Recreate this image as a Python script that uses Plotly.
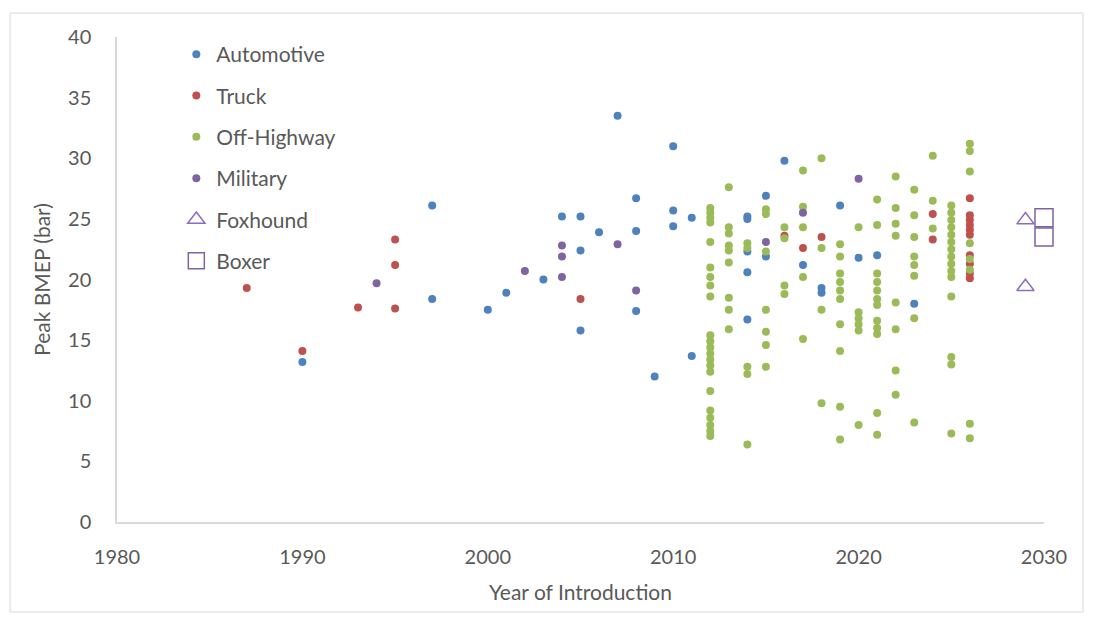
import plotly.graph_objects as go

# Peak BMEP (bar) against year of introduction, by engine application
automotive_year = [1990, 1997, 1997, 2000, 2001, 2003, 2004, 2005, 2005, 2005,
                   2006, 2007, 2008, 2008, 2008, 2009, 2010, 2010, 2010, 2011,
                   2011, 2014, 2014, 2014, 2014, 2014, 2015, 2015, 2016, 2017,
                   2018, 2018, 2019, 2020, 2021, 2023]
automotive_bmep = [13.2, 26.1, 18.4, 17.5, 18.9, 20.0, 25.2, 25.2, 22.4, 15.8,
                   23.9, 33.5, 26.7, 24.0, 17.4, 12.0, 31.0, 25.7, 24.4, 25.1,
                   13.7, 25.2, 25.0, 22.3, 20.6, 16.7, 26.9, 21.9, 29.8, 21.2,
                   19.3, 18.9, 26.1, 21.8, 22.0, 18.0]

truck_year = [1987, 1990, 1993, 1995, 1995, 1995, 2005, 2016, 2017, 2018,
              2024, 2024, 2026, 2026, 2026, 2026, 2026, 2026, 2026, 2026,
              2026, 2026]
truck_bmep = [19.3, 14.1, 17.7, 23.3, 21.2, 17.6, 18.4, 23.6, 22.6, 23.5,
              25.4, 23.3, 26.7, 25.3, 24.9, 24.5, 24.1, 23.7, 22.0, 21.3,
              20.5, 20.1]

offhighway_year = ([2012] * 22 + [2013] * 9 + [2014] * 5 + [2015] * 7 +
                   [2016] * 4 + [2017] * 5 + [2018] * 4 + [2019] * 10 +
                   [2020] * 6 + [2021] * 12 + [2022] * 8 + [2023] * 8 +
                   [2024] * 3 + [2025] * 15 + [2026] * 8)
offhighway_bmep = [
    25.9, 25.5, 25.1, 24.7, 23.1, 21.0, 20.2, 19.5, 18.6, 15.4, 14.9, 14.4,
    13.9, 13.4, 12.9, 12.4, 10.8, 9.2, 8.6, 8.0, 7.5, 7.1,
    27.6, 24.3, 23.8, 22.8, 22.4, 21.4, 18.5, 17.5, 15.9,
    23.0, 22.6, 12.8, 12.2, 6.4,
    25.8, 25.4, 22.3, 17.5, 15.7, 14.6, 12.8,
    24.3, 23.4, 19.5, 18.8,
    29.0, 26.0, 24.3, 20.2, 15.1,
    30.0, 22.6, 17.5, 9.8,
    22.9, 21.9, 20.5, 19.8, 19.1, 18.4, 16.3, 14.1, 9.5, 6.8,
    24.3, 17.3, 16.8, 16.3, 15.8, 8.0,
    26.6, 24.5, 20.5, 19.8, 19.1, 18.4, 17.9, 16.6, 16.0, 15.5, 9.0, 7.2,
    28.5, 25.9, 24.6, 23.6, 18.1, 15.9, 12.5, 10.5,
    27.4, 25.3, 23.5, 21.9, 21.2, 20.3, 16.8, 8.2,
    30.2, 26.5, 24.2,
    26.1, 25.5, 24.9, 24.3, 23.7, 23.1, 22.5, 21.9, 21.3, 20.7, 20.2, 18.6,
    13.6, 13.0, 7.3,
    31.2, 30.6, 28.9, 23.0, 21.7, 20.8, 8.1, 6.9,
]

military_year = [1994, 2002, 2004, 2004, 2004, 2007, 2008, 2015, 2017, 2020]
military_bmep = [19.7, 20.7, 22.8, 21.9, 20.2, 22.9, 19.1, 23.1, 25.5, 28.3]

foxhound_year = [2029, 2029]
foxhound_bmep = [24.9, 19.4]

boxer_year = [2030, 2030]
boxer_bmep = [25.1, 23.5]

x_ticks = [1980, 1990, 2000, 2010, 2020, 2030]
y_ticks = [0, 5, 10, 15, 20, 25, 30, 35, 40]

FONT = "Lato"
TEXT = "#595959"
AXIS = "#D9D9D9"

fig = go.Figure()

series = [
    ("Automotive", automotive_year, automotive_bmep, "#4F81BD", "circle", 8),
    ("Truck", truck_year, truck_bmep, "#C0504D", "circle", 8),
    ("Off-Highway", offhighway_year, offhighway_bmep, "#9BBB59", "circle", 8),
    ("Military", military_year, military_bmep, "#8064A2", "circle", 8),
]
for name, xs, ys, color, symbol, size in series:
    fig.add_trace(go.Scatter(
        x=xs, y=ys, mode="markers", name=name, legendgroup=name,
        marker=dict(color=color, size=size, symbol=symbol, line=dict(width=0)),
        cliponaxis=False,
    ))

fig.add_trace(go.Scatter(
    x=foxhound_year, y=foxhound_bmep, mode="markers", name="Foxhound",
    legendgroup="Foxhound",
    marker=dict(symbol="triangle-up-open", size=15, color="#8A6CC0",
                line=dict(width=1.5, color="#8A6CC0")),
    cliponaxis=False,
))
fig.add_trace(go.Scatter(
    x=boxer_year, y=boxer_bmep, mode="markers", name="Boxer",
    legendgroup="Boxer",
    marker=dict(symbol="square-open", size=18, color="#7D62A6",
                line=dict(width=1.5, color="#7D62A6")),
    cliponaxis=False,
))

fig.update_layout(
    width=1095, height=622,
    margin=dict(l=117, r=51, t=37, b=100),
    paper_bgcolor="white", plot_bgcolor="white",
    font=dict(family=FONT, color=TEXT, size=20),
    showlegend=True,
    legend=dict(
        x=0.064, y=1.006, xanchor="left", yanchor="top",
        font=dict(family=FONT, size=21, color=TEXT),
        bgcolor="rgba(0,0,0,0)", traceorder="grouped",
        tracegroupgap=11, itemwidth=30,
    ),
    xaxis=dict(
        range=[1980, 2030], tickvals=x_ticks, ticktext=[str(v) for v in x_ticks],
        showgrid=False, zeroline=False, showline=True, linecolor=AXIS,
        linewidth=1.5, ticks="", ticklabelstandoff=16,
        tickfont=dict(family=FONT, size=20, color=TEXT),
        title=dict(text="Year of Introduction", standoff=19,
                   font=dict(family=FONT, size=21, color=TEXT)),
    ),
    yaxis=dict(
        range=[0, 40], tickvals=y_ticks,
        showgrid=False, zeroline=False, showline=True, linecolor=AXIS,
        linewidth=1.5, ticks="", ticklabelstandoff=20,
        tickfont=dict(family=FONT, size=20, color=TEXT),
        title=dict(text="Peak BMEP (bar)", standoff=12,
                   font=dict(family=FONT, size=21, color=TEXT)),
    ),
)

# Light frame around the whole chart area
fig.add_shape(
    type="rect", xref="paper", yref="paper",
    x0=(10 - 117) / 927, x1=(1083 - 117) / 927,
    y0=(522 - 612) / 485, y1=(522 - 13) / 485,
    line=dict(color=AXIS, width=1), layer="below",
)

fig.write_html("out.html")
